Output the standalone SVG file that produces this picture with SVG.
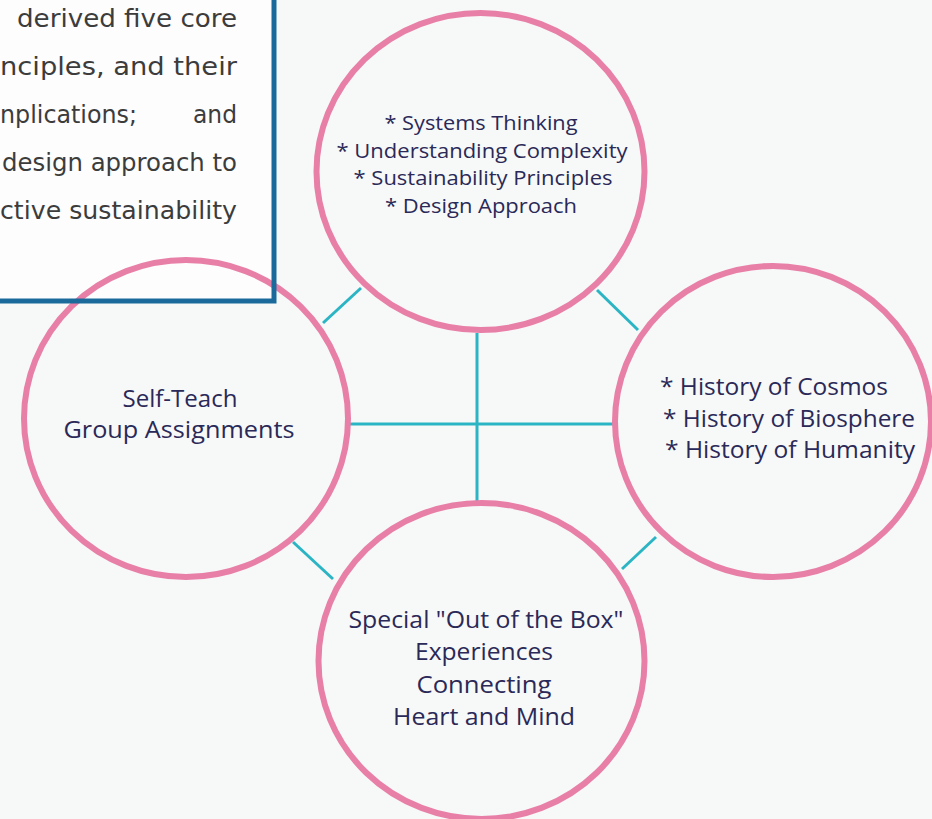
<svg xmlns="http://www.w3.org/2000/svg" width="932" height="819" viewBox="0 0 932 819">
<style>
.ring{fill:none;stroke:#e87fa7;stroke-width:6}
.conn{stroke:#2bb5c4;stroke-width:3;fill:none}
.lbl{font-family:"Open Sans","Liberation Sans",sans-serif;fill:#2a2957;text-anchor:middle;font-weight:500}
.lbs{font-family:"Open Sans","Liberation Sans",sans-serif;fill:#2a2957;font-weight:500}
.box{font-family:"DejaVu Sans","Liberation Sans",sans-serif;fill:#3c3c3c;font-size:24px}
</style>
<rect x="0" y="0" width="932" height="819" fill="#f7f8f8"/>
<rect x="-10" y="-10" width="284" height="311" fill="#fdfdfd"/>
<g id="connectors">
<line class="conn" x1="323" y1="323" x2="361" y2="288"/>
<line class="conn" x1="597" y1="290" x2="638" y2="330"/>
<line class="conn" x1="293" y1="542" x2="333" y2="579"/>
<line class="conn" x1="622" y1="569" x2="656" y2="537"/>
<line class="conn" x1="477" y1="333" x2="477" y2="501"/>
<line class="conn" x1="349" y1="424" x2="613" y2="424"/>
</g>
<g id="node-top">
<ellipse class="ring" cx="480.5" cy="171.5" rx="164" ry="158.5"/>
<text class="lbl" font-size="20"><tspan x="481" y="130" textLength="193" lengthAdjust="spacingAndGlyphs">* Systems Thinking</tspan><tspan x="482" y="158" textLength="291" lengthAdjust="spacingAndGlyphs">* Understanding Complexity</tspan><tspan x="483" y="185" textLength="259" lengthAdjust="spacingAndGlyphs">* Sustainability Principles</tspan><tspan x="481" y="213" textLength="192" lengthAdjust="spacingAndGlyphs">* Design Approach</tspan></text>
</g>
<g id="node-left">
<ellipse class="ring" cx="186" cy="418.5" rx="162" ry="158.5"/>
<text class="lbl" font-size="23"><tspan x="180" y="407" textLength="115" lengthAdjust="spacingAndGlyphs">Self-Teach</tspan><tspan x="179" y="438" textLength="231" lengthAdjust="spacingAndGlyphs">Group Assignments</tspan></text>
</g>
<g id="node-right">
<ellipse class="ring" cx="773" cy="421.5" rx="158" ry="155.5"/>
<text class="lbs" font-size="23"><tspan x="660" y="395" textLength="228" lengthAdjust="spacingAndGlyphs">* History of Cosmos</tspan><tspan x="663" y="427" textLength="252" lengthAdjust="spacingAndGlyphs">* History of Biosphere</tspan><tspan x="665" y="458" textLength="250" lengthAdjust="spacingAndGlyphs">* History of Humanity</tspan></text>
</g>
<g id="node-bottom">
<ellipse class="ring" cx="481.5" cy="661" rx="163" ry="158"/>
<text class="lbl" font-size="23"><tspan x="486" y="628" textLength="275" lengthAdjust="spacingAndGlyphs">Special "Out of the Box"</tspan><tspan x="484" y="660" textLength="138" lengthAdjust="spacingAndGlyphs">Experiences</tspan><tspan x="484" y="693" textLength="135" lengthAdjust="spacingAndGlyphs">Connecting</tspan><tspan x="484" y="725" textLength="182" lengthAdjust="spacingAndGlyphs">Heart and Mind</tspan></text>
</g>
<g id="note-box">
<rect x="-10" y="-10" width="284" height="311" fill="none" stroke="#1b6a9c" stroke-width="5"/>
<text class="box"><tspan x="17" y="27" textLength="220" lengthAdjust="spacingAndGlyphs">derived five core</tspan><tspan x="0" y="75" textLength="237" lengthAdjust="spacingAndGlyphs">nciples, and their</tspan><tspan x="0" y="123" textLength="137" lengthAdjust="spacingAndGlyphs">nplications;</tspan><tspan x="193" y="123" textLength="44" lengthAdjust="spacingAndGlyphs">and</tspan><tspan x="2" y="171" textLength="235" lengthAdjust="spacingAndGlyphs">design approach to</tspan><tspan x="0" y="219" textLength="237" lengthAdjust="spacingAndGlyphs">ctive sustainability</tspan></text>
</g>
</svg>
